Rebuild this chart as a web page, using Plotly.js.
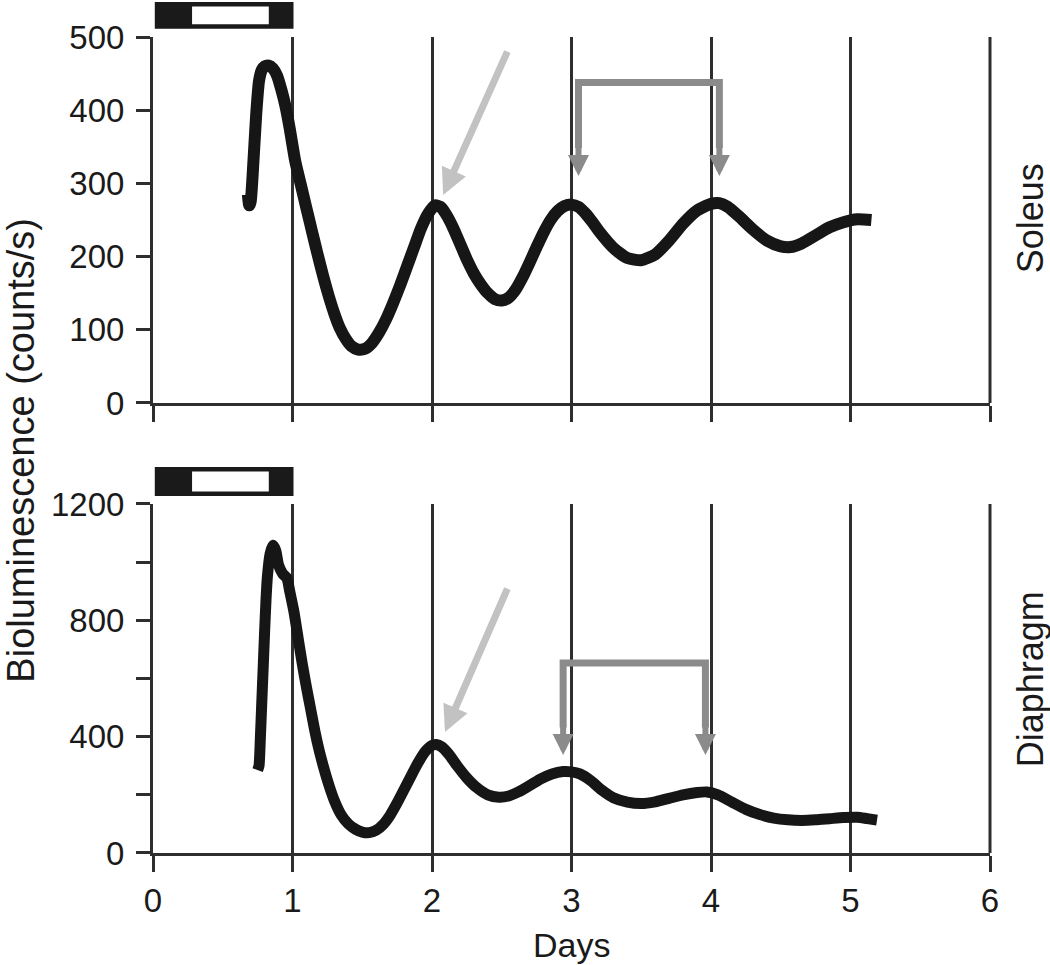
<!DOCTYPE html>
<html>
<head>
<meta charset="utf-8">
<script src="https://cdn.plot.ly/plotly-3.0.1.min.js"></script>
<style>
body { margin: 0; background: #fff; }
#chart { width: 1050px; height: 965px; }
</style>
</head>
<body>
<div id="chart"></div>
<script>
// Soleus (top panel) - days vs counts/s
var solDays = [0.68,0.69,0.70,0.72,0.74,0.76,0.78,0.80,0.83,0.86,0.89,0.92,0.95,0.98,1.02,1.06,1.10,1.14,1.18,1.22,1.26,1.30,1.34,1.38,1.42,1.47,1.52,1.57,1.62,1.67,1.72,1.77,1.82,1.87,1.92,1.97,2.02,2.06,2.10,2.15,2.20,2.25,2.30,2.35,2.40,2.45,2.50,2.55,2.60,2.65,2.70,2.75,2.80,2.85,2.90,2.95,3.00,3.05,3.10,3.15,3.20,3.30,3.40,3.50,3.60,3.70,3.80,3.90,4.00,4.06,4.12,4.20,4.30,4.40,4.50,4.57,4.65,4.75,4.85,4.95,5.05,5.15];
var solCounts = [285,270,275,330,395,440,455,460,461,457,447,428,405,375,330,298,266,234,203,173,146,122,102,88,78,73,74,82,96,114,136,160,186,212,238,258,270,268,258,240,218,196,177,162,150,142,140,144,155,172,192,213,233,250,262,269,271,268,259,247,234,212,198,195,203,222,245,263,272,273,268,255,237,222,214,213,218,229,240,247,251,250];

// Diaphragm (bottom panel)
var diaDays = [0.75,0.76,0.77,0.78,0.79,0.80,0.81,0.82,0.84,0.86,0.88,0.90,0.93,0.96,0.98,1.01,1.04,1.07,1.10,1.13,1.16,1.19,1.22,1.26,1.30,1.35,1.40,1.45,1.50,1.55,1.60,1.65,1.70,1.75,1.80,1.85,1.90,1.95,2.00,2.03,2.07,2.12,2.18,2.25,2.32,2.40,2.48,2.55,2.62,2.70,2.78,2.86,2.94,3.00,3.06,3.14,3.22,3.30,3.40,3.50,3.60,3.70,3.80,3.90,3.97,4.05,4.15,4.25,4.35,4.45,4.55,4.65,4.75,4.85,4.95,5.05,5.12,5.19];
var diaCounts = [285,300,400,520,640,760,870,950,1030,1058,1040,990,960,945,900,830,740,650,570,495,420,355,300,235,180,130,100,82,72,70,78,98,130,172,218,265,310,348,370,373,365,340,300,258,225,200,192,196,210,232,255,272,280,279,272,248,215,190,175,170,176,188,200,208,210,200,175,150,132,120,114,112,114,118,122,123,118,113];

// light/dark bar edges in days: dark | light | dark
var ldEdges = [0.02, 0.28, 0.83, 1.0];

// arrow positions (days, counts)
var solPeakArrow = {head: [2.08, 284], tail: [2.545, 482]};
var solBracket = {x: [3.05, 4.06], bar: 438, tip: 310};
var diaPeakArrow = {head: [2.093, 416], tail: [2.545, 914]};
var diaBracket = {x: [2.94, 3.96], bar: 653, tip: 337};

var axisColor = '#2e2e2e';
var curveColor = '#161616';
var lightGray = '#c2c2c2';
var midGray = '#8b8b8b';
var fontFam = 'Liberation Sans, Arial, Helvetica, sans-serif';

CHART = document.getElementById('chart');

var solTrace = {
    x: solDays, y: solCounts,
    xaxis: 'x', yaxis: 'y',
    mode: 'lines',
    line: {color: curveColor, width: 12, shape: 'spline', smoothing: 0.6},
    hoverinfo: 'skip'
};
var diaTrace = {
    x: diaDays, y: diaCounts,
    xaxis: 'x2', yaxis: 'y2',
    mode: 'lines',
    line: {color: curveColor, width: 11, shape: 'spline', smoothing: 0.6},
    hoverinfo: 'skip'
};

function xAxis(anchor, labels){
    return {
        anchor: anchor,
        domain: [0, 1],
        range: [0, 6],
        tick0: 0, dtick: 1,
        ticks: 'outside', ticklen: 16, tickwidth: 3, tickcolor: axisColor,
        showticklabels: labels,
        tickfont: {size: 33, color: '#1a1a1a'},
        showline: true, linewidth: 3, linecolor: axisColor,
        showgrid: true, gridcolor: axisColor, gridwidth: 3,
        zeroline: false,
        fixedrange: true
    };
}

function yAxis(anchor, domain, top, step, minorStep){
    var ax = {
        anchor: anchor,
        domain: domain,
        range: [0, top],
        tick0: 0, dtick: step,
        ticks: 'outside', ticklen: 14, tickwidth: 3, tickcolor: axisColor,
        tickfont: {size: 33, color: '#1a1a1a'},
        ticklabelstandoff: 5,
        showline: true, linewidth: 3, linecolor: axisColor,
        showgrid: false, zeroline: false,
        fixedrange: true
    };
    if(minorStep){
        ax.minor = {dtick: minorStep, ticks: 'outside', ticklen: 14, tickwidth: 3, tickcolor: axisColor, showgrid: false};
    }
    return ax;
}

// light/dark bar above each panel
function ldBar(xref, yref, y0, y1, w0, w1){
    return [
        {type: 'rect', xref: xref, yref: yref, x0: ldEdges[0], x1: ldEdges[3], y0: y0, y1: y1,
         fillcolor: '#1a1a1a', line: {color: '#1a1a1a', width: 2}, layer: 'above'},
        {type: 'rect', xref: xref, yref: yref, x0: ldEdges[1], x1: ldEdges[2], y0: w0, y1: w1,
         fillcolor: '#ffffff', line: {width: 0}, layer: 'above'}
    ];
}

// last vertical line at the right edge (plotly skips the grid line there)
function edgeLine(xref, yref){
    return {type: 'line', xref: xref, yref: yref, x0: 1, x1: 1, y0: 0, y1: 1,
            line: {color: axisColor, width: 3}, layer: 'below'};
}

// bracket (without arrow heads) in data coords
function bracketPath(xref, yref, b){
    var legEnd = b.tip + (b.bar - b.tip) * 0.3;
    return {
        type: 'path', xref: xref, yref: yref,
        path: 'M' + b.x[0] + ',' + legEnd + ' L' + b.x[0] + ',' + b.bar +
              ' L' + b.x[1] + ',' + b.bar + ' L' + b.x[1] + ',' + legEnd,
        line: {color: midGray, width: 7}, layer: 'above'
    };
}

function arrow(xref, yref, head, tail, color, width, size){
    return {
        xref: xref, yref: yref, axref: xref, ayref: yref,
        x: head[0], y: head[1], ax: tail[0], ay: tail[1],
        text: '', showarrow: true, arrowhead: 2, arrowsize: size,
        arrowwidth: width, arrowcolor: color, standoff: 0
    };
}

function bracketHeads(xref, yref, b){
    var start = b.tip + (b.bar - b.tip) * 0.35;
    return [
        arrow(xref, yref, [b.x[0], b.tip], [b.x[0], start], midGray, 6, 0.7),
        arrow(xref, yref, [b.x[1], b.tip], [b.x[1], start], midGray, 6, 0.7)
    ];
}

var shapes = []
    .concat(ldBar('x', 'y domain', 1.025, 1.093, 1.035, 1.083))
    .concat(ldBar('x2', 'y2 domain', 1.026, 1.103, 1.036, 1.093))
    .concat([edgeLine('x domain', 'y domain'), edgeLine('x2 domain', 'y2 domain')])
    .concat([bracketPath('x', 'y', solBracket), bracketPath('x2', 'y2', diaBracket)]);

var annotations = [
    arrow('x', 'y', solPeakArrow.head, solPeakArrow.tail, lightGray, 7, 0.75),
    arrow('x2', 'y2', diaPeakArrow.head, diaPeakArrow.tail, lightGray, 7, 0.75)
]
    .concat(bracketHeads('x', 'y', solBracket))
    .concat(bracketHeads('x2', 'y2', diaBracket))
    .concat([
        {xref: 'paper', yref: 'paper', x: -0.158, y: 0.494, xanchor: 'center', yanchor: 'middle',
         text: 'Bioluminescence (counts/s)', textangle: -90, showarrow: false, font: {size: 38}},
        {xref: 'paper', yref: 'paper', x: 1.048, y: 0.778, xanchor: 'center', yanchor: 'middle',
         text: 'Soleus', textangle: -90, showarrow: false, font: {size: 36}},
        {xref: 'paper', yref: 'paper', x: 1.048, y: 0.213, xanchor: 'center', yanchor: 'middle',
         text: 'Diaphragm', textangle: -90, showarrow: false, font: {size: 36}},
        {xref: 'paper', yref: 'paper', x: 0.5, y: -0.1127, xanchor: 'center', yanchor: 'middle',
         text: 'Days', showarrow: false, font: {size: 34}}
    ]);

var layout = {
    width: 1050,
    height: 965,
    margin: {l: 153, r: 60, t: 37, b: 112, pad: 0},
    showlegend: false,
    paper_bgcolor: '#ffffff',
    plot_bgcolor: '#ffffff',
    font: {family: fontFam, color: '#1a1a1a', size: 33},
    xaxis: xAxis('y', false),
    yaxis: yAxis('x', [0.5515, 1], 500, 100),
    xaxis2: xAxis('y2', true),
    yaxis2: yAxis('x2', [0, 0.4277], 1200, 400, 200),
    shapes: shapes,
    annotations: annotations
};

var config = {displayModeBar: false, staticPlot: true};

Plotly.newPlot(CHART, [solTrace, diaTrace], layout, config);
</script>
</body>
</html>
